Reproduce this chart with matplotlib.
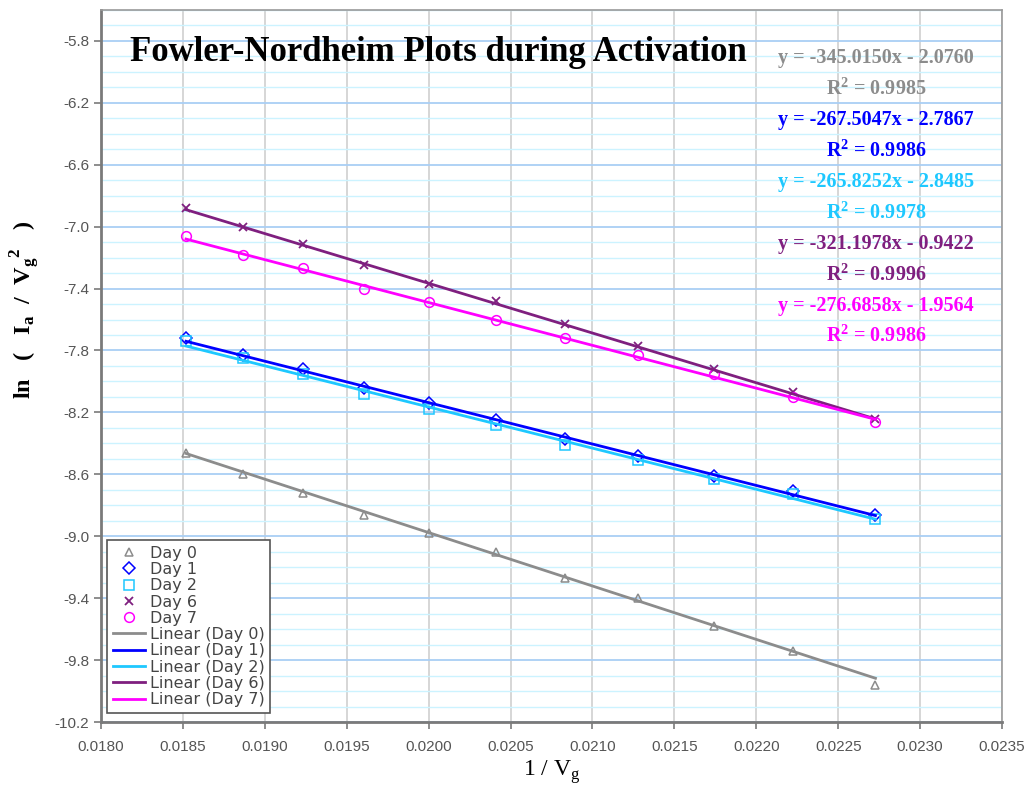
import matplotlib
matplotlib.use("Agg")
import matplotlib.pyplot as plt
import numpy as np
from matplotlib.ticker import FixedLocator, MultipleLocator

# gate voltages (V) -> x axis is 1/Vg
gate_volts = [54, 53, 52, 51, 50, 49, 48, 47, 46, 45, 44]

days = ["Day 0", "Day 1", "Day 2", "Day 6", "Day 7"]

day0 = [-8.46, -8.60, -8.72, -8.86, -8.98, -9.10, -9.27, -9.40, -9.58, -9.74, -9.96]
day1 = [-7.72, -7.83, -7.92, -8.04, -8.14, -8.25, -8.37, -8.48, -8.61, -8.71, -8.86]
day2 = [-7.74, -7.85, -7.95, -8.08, -8.18, -8.28, -8.41, -8.51, -8.63, -8.73, -8.89]
day6 = [-6.88, -7.00, -7.11, -7.25, -7.37, -7.48, -7.63, -7.77, -7.92, -8.07, -8.24]
day7 = [-7.06, -7.18, -7.27, -7.40, -7.49, -7.60, -7.72, -7.83, -7.95, -8.10, -8.26]

# linear fits (slope, intercept, R^2)
slopes = [-345.0150, -267.5047, -265.8252, -321.1978, -276.6858]
intercepts = [-2.0760, -2.7867, -2.8485, -0.9422, -1.9564]
r2_vals = [0.9985, 0.9986, 0.9978, 0.9996, 0.9986]

xtick_vals = [0.0180, 0.0185, 0.0190, 0.0195, 0.0200, 0.0205, 0.0210,
              0.0215, 0.0220, 0.0225, 0.0230, 0.0235]
ytick_vals = [-5.8, -6.2, -6.6, -7.0, -7.4, -7.8, -8.2, -8.6, -9.0, -9.4, -9.8, -10.2]

colors = ["#8c8c8c", "#0000ff", "#1ec8ff", "#7f1f7f", "#ff00ff"]
markers = ["^", "D", "s", "x", "o"]
msizes = [6, 6, 7, 6, 7]

SERIF = ["Liberation Serif", "DejaVu Serif"]
SANS = ["Liberation Sans", "DejaVu Sans"]

x = 1.0 / np.array(gate_volts, dtype=float)
series = [day0, day1, day2, day6, day7]

fig = plt.figure(figsize=(10.29, 7.93), dpi=100)
ax = fig.add_axes([0.0982, 0.0895, 0.8756, 0.898])

ax.set_xlim(0.0180, 0.0235)
ax.set_ylim(-10.2, -5.6)

# grid: blue majors every 0.4, pale cyan minors every 0.1, grey verticals
ax.yaxis.set_major_locator(FixedLocator(ytick_vals))
ax.yaxis.set_minor_locator(MultipleLocator(0.1))
ax.xaxis.set_major_locator(FixedLocator(xtick_vals))
ax.grid(axis="y", which="minor", color="#ccf3ff", lw=1.0, zorder=0)
ax.grid(axis="y", which="major", color="#a9cff5", lw=1.3, zorder=0)
ax.grid(axis="x", which="major", color="#cfcfcf", lw=1.2, zorder=0)
ax.set_axisbelow(True)

handles_pts = []
handles_fit = []
for i, (ys, c, m, ms) in enumerate(zip(series, colors, markers, msizes)):
    if m == "x":
        h, = ax.plot(x, ys, ls="none", marker=m, ms=ms, mew=1.3, color=c,
                     label=days[i], zorder=3)
    else:
        h, = ax.plot(x, ys, ls="none", marker=m, ms=ms, mfc="none", mew=1.1,
                     mec=c, label=days[i], zorder=3)
    handles_pts.append(h)

for i, c in enumerate(colors):
    xf = np.array([x.min(), x.max()])
    yf = slopes[i] * xf + intercepts[i]
    h, = ax.plot(xf, yf, color=c, lw=2.0, label=f"Linear ({days[i]})", zorder=4)
    handles_fit.append(h)

# axes frame
for side in ["left", "bottom"]:
    ax.spines[side].set_color("#7a7a7a")
    ax.spines[side].set_linewidth(2.0)
for side in ["top", "right"]:
    ax.spines[side].set_color("#9a9a9a")
    ax.spines[side].set_linewidth(1.2)

ax.set_xticklabels([f"{v:.4f}" for v in xtick_vals])
ax.set_yticklabels([f"{v:.1f}" for v in ytick_vals])
ax.tick_params(axis="both", which="major", direction="out", length=5, width=1.2,
               color="#7a7a7a", labelcolor="#555555", labelsize=11)
ax.tick_params(axis="y", which="minor", length=0)
ax.tick_params(axis="x", pad=8)
for lab in ax.get_xticklabels() + ax.get_yticklabels():
    lab.set_family(SANS)

ax.set_xlabel(r"1 / V$_\mathregular{g}$", family=SERIF, fontsize=17, labelpad=3)
ax.set_ylabel(r"ln   (   I$_\mathregular{a}$  /  V$_\mathregular{g}$$^\mathregular{  2}$   )",
              family=SERIF, fontsize=17.5, fontweight="bold", va="center")
ax.yaxis.set_label_coords(-0.084, 0.579, transform=ax.transAxes)

ax.text(0.032, 0.94, "Fowler-Nordheim Plots during Activation", transform=ax.transAxes,
        family=SERIF, fontsize=25, fontweight="bold", va="center", ha="left", zorder=6)

# regression equations, stacked in the upper right
for i, c in enumerate(colors):
    y0 = 0.932 - i * 0.0868
    ax.text(0.86, y0, f"y = {slopes[i]:.4f}x - {abs(intercepts[i]):.4f}",
            transform=ax.transAxes, family=SERIF, fontsize=14.5, fontweight="bold",
            color=c, ha="center", va="center", zorder=6)
    ax.text(0.86, y0 - 0.043, f"R$^\\mathregular{{2}}$ = {r2_vals[i]:.4f}",
            transform=ax.transAxes, family=SERIF, fontsize=14.5, fontweight="bold",
            color=c, ha="center", va="center", zorder=6)

leg = ax.legend(handles=handles_pts + handles_fit, loc="lower left",
                bbox_to_anchor=(0.007, 0.013), prop={"family": "DejaVu Sans", "size": 11.5},
                labelspacing=0.08, handlelength=2.0, handletextpad=0.3,
                borderpad=0.35, borderaxespad=0, fancybox=False, framealpha=1,
                edgecolor="#555555")
leg.get_frame().set_linewidth(1.2)
for t in leg.get_texts():
    t.set_color("#444444")

fig.savefig("out.png", dpi=100)
